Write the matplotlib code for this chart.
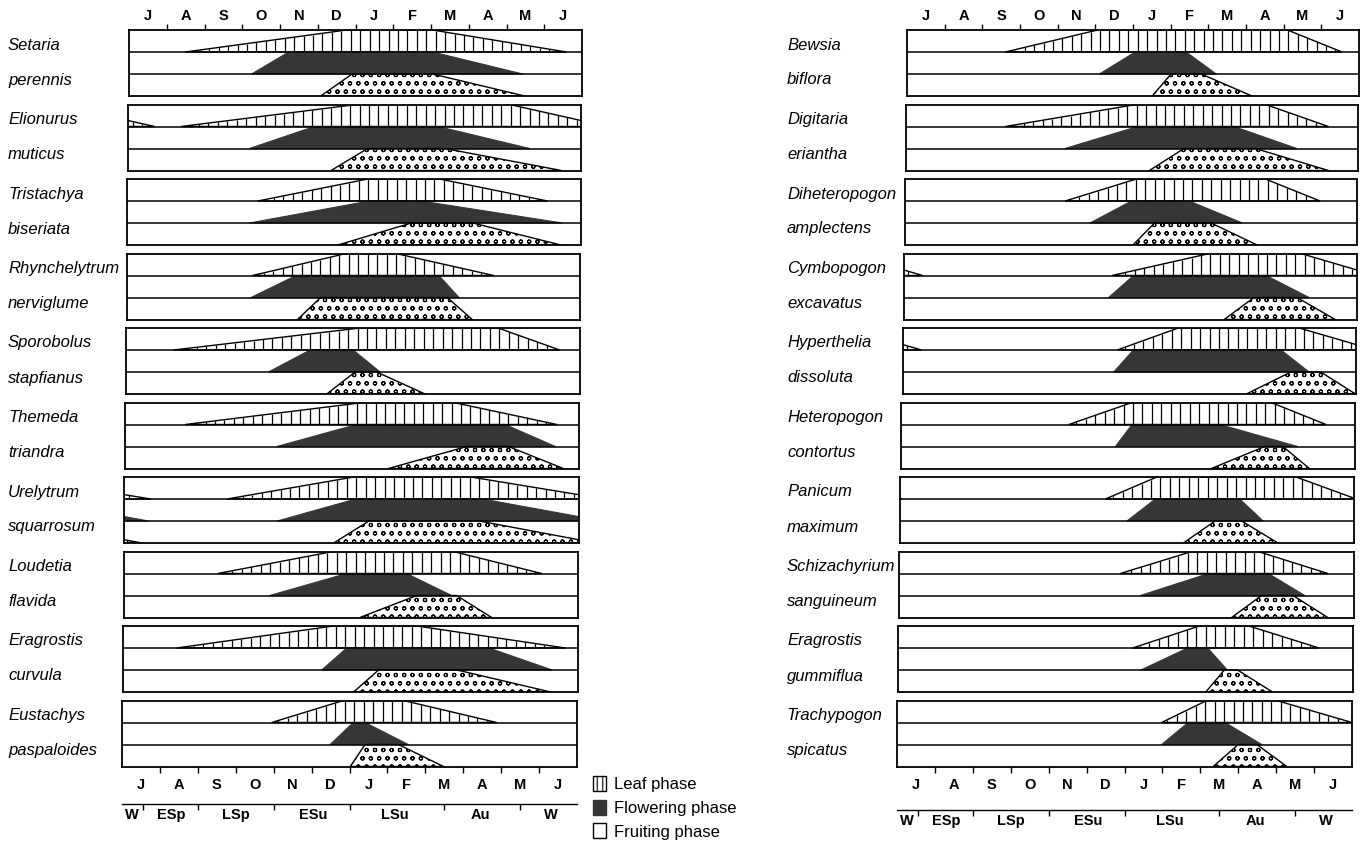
import numpy as np
import matplotlib
matplotlib.use('Agg')
import matplotlib.pyplot as plt
from matplotlib.patches import Polygon, Patch

# ---------------- data (months from 1 July: 0..12) ----------------
months = ['J', 'A', 'S', 'O', 'N', 'D', 'J', 'F', 'M', 'A', 'M', 'J']
seasons = ['W', 'ESp', 'LSp', 'ESu', 'LSu', 'Au', 'W']
season_bounds = [0.55, 2.0, 4.0, 6.0, 8.5, 10.5]
season_label_pos = [0.25, 1.3, 3.0, 5.05, 7.2, 9.45, 11.3]

species_left = [('Setaria', 'perennis'), ('Elionurus', 'muticus'),
                ('Tristachya', 'biseriata'), ('Rhynchelytrum', 'nerviglume'),
                ('Sporobolus', 'stapfianus'), ('Themeda', 'triandra'),
                ('Urelytrum', 'squarrosum'), ('Loudetia', 'flavida'),
                ('Eragrostis', 'curvula'), ('Eustachys', 'paspaloides')]
# (start, full start, full end, end)
leaf_left = [(1.49, 5.76, 8.04, 11.59), (1.40, 6.04, 10.10, 12.70),
             (3.45, 6.36, 8.26, 11.12), (3.33, 5.80, 7.12, 9.71),
             (1.26, 6.19, 9.84, 11.47), (1.59, 6.30, 8.68, 11.41),
             (2.71, 6.06, 9.15, 12.70), (2.49, 5.53, 8.70, 11.04),
             (1.42, 5.56, 7.76, 11.68), (3.95, 5.84, 7.42, 9.88)]
flower_left = [(3.25, 4.23, 8.04, 10.43), (3.21, 4.93, 8.20, 10.63),
               (3.23, 6.40, 7.77, 11.51), (3.29, 4.48, 8.26, 8.79),
               (3.77, 4.87, 6.01, 6.72), (4.01, 6.12, 10.04, 11.37),
               (4.04, 6.11, 9.46, 12.64), (3.86, 5.89, 7.47, 8.66),
               (5.25, 5.91, 9.66, 11.33), (5.49, 6.10, 6.41, 7.55)]
fruit_left = [(5.08, 5.91, 8.04, 10.48), (5.37, 6.34, 8.38, 11.47),
              (5.57, 7.51, 9.14, 11.47), (4.52, 5.13, 8.48, 9.14),
              (5.31, 6.06, 6.63, 7.91), (6.96, 9.03, 10.13, 11.58),
              (5.53, 6.46, 9.37, 12.46), (6.24, 7.74, 8.79, 9.72),
              (6.09, 6.75, 8.82, 11.29), (6.02, 6.41, 7.29, 8.48)]

species_right = [('Bewsia', 'biflora'), ('Digitaria', 'eriantha'),
                 ('Diheteropogon', 'amplectens'), ('Cymbopogon', 'excavatus'),
                 ('Hyperthelia', 'dissoluta'), ('Heteropogon', 'contortus'),
                 ('Panicum', 'maximum'), ('Schizachyrium', 'sanguineum'),
                 ('Eragrostis', 'gummiflua'), ('Trachypogon', 'spicatus')]
leaf_right = [(2.61, 5.06, 10.10, 11.55), (2.64, 6.11, 9.54, 11.21),
              (4.25, 6.14, 9.56, 11.01), (5.52, 8.10, 10.52, 12.50),
              (5.68, 7.30, 10.50, 12.50), (4.43, 6.10, 9.78, 11.23),
              (5.42, 6.78, 10.46, 12.05), (5.84, 7.73, 9.48, 11.32),
              (6.19, 7.95, 9.26, 11.11), (6.98, 8.17, 10.01, 12.00)]
flower_right = [(5.11, 6.06, 7.41, 8.21), (4.22, 6.15, 8.70, 10.37),
                (4.91, 6.01, 7.54, 8.95), (5.43, 6.09, 9.60, 10.74),
                (5.59, 6.11, 10.02, 10.76), (5.66, 6.10, 8.42, 10.48),
                (5.99, 6.74, 8.97, 9.59), (6.37, 8.17, 9.75, 10.71),
                (6.41, 7.64, 8.17, 8.69), (6.98, 7.68, 8.65, 9.62)]
fruit_right = [(6.51, 7.01, 7.81, 9.16), (6.46, 7.38, 9.27, 11.21),
               (6.05, 6.62, 8.12, 9.34), (8.49, 9.28, 10.42, 11.43),
               (9.10, 10.28, 11.07, 11.99), (8.20, 9.61, 10.09, 10.79),
               (7.48, 8.32, 9.02, 9.98), (8.78, 9.57, 10.40, 11.32),
               (8.12, 8.61, 8.96, 9.88), (8.34, 9.00, 9.49, 10.28)]

legend_labels = ['Leaf phase', 'Flowering phase', 'Fruiting phase']

# ---------------- style / layout ----------------
W, H = 1370, 850
FONT = 'Liberation Sans'
DARK = '#363636'
plt.rcParams['font.family'] = [FONT, 'DejaVu Sans']
plt.rcParams['hatch.linewidth'] = 0.8
plt.rcParams['hatch.color'] = 'black'

fig = plt.figure(figsize=(W / 100, H / 100), dpi=100)
fig.patch.set_facecolor('white')

TOP0, PITCH, PH = 30, 74.5, 66
columns = [
    dict(species=species_left, leaf=leaf_left, flower=flower_left, fruit=fruit_left,
         l0=129, l1=122, r0=582, r1=577, label_x=8, season_y=804),
    dict(species=species_right, leaf=leaf_right, flower=flower_right, fruit=fruit_right,
         l0=907, l1=897, r0=1359, r1=1352, label_x=787, season_y=810),
]


def trap(x, p):
    s, a, b, e = p
    y = np.zeros_like(x)
    up = (x > s) & (x < a)
    y[up] = (x[up] - s) / (a - s)
    y[(x >= a) & (x <= b)] = 1.0
    dn = (x > b) & (x < e)
    y[dn] = (e - x[dn]) / (e - b)
    return y


def add_phase(ax, p, base, **kw):
    s, a, b, e = p
    shifts = [0.0] + ([-12.0] if e > 12 else [])
    for sh in shifts:
        poly = Polygon([(s + sh, base), (a + sh, base + 1), (b + sh, base + 1), (e + sh, base)],
                       closed=True, zorder=2, **kw)
        ax.add_patch(poly)


hatch_x = np.arange(0.125, 12, 0.25)

for col in columns:
    n = len(col['species'])
    for i in range(n):
        top = TOP0 + i * PITCH
        left = col['l0'] + (col['l1'] - col['l0']) * i / (n - 1)
        right = col['r0'] + (col['r1'] - col['r0']) * i / (n - 1)
        ax = fig.add_axes([left / W, 1 - (top + PH) / H, (right - left) / W, PH / H])
        ax.set_xlim(0, 12)
        ax.set_ylim(0, 3)
        ax.set_yticks([])
        for sp in ax.spines.values():
            sp.set_linewidth(1.3)

        # leaf (top row)
        lp = col['leaf'][i]
        add_phase(ax, lp, 2, facecolor='white', edgecolor='black', linewidth=1.0)
        h = trap(hatch_x, lp) + trap(hatch_x + 12, lp)
        m = h > 0.03
        ax.vlines(hatch_x[m], 2, 2 + h[m], colors='black', linewidth=0.9, zorder=2.5)
        # flowering (middle row)
        add_phase(ax, col['flower'][i], 1, facecolor=DARK, edgecolor=DARK, linewidth=0.8)
        # fruiting (bottom row)
        add_phase(ax, col['fruit'][i], 0, facecolor='white', edgecolor='black',
                  linewidth=1.0, hatch='oo')
        ax.axhline(1, color='black', linewidth=1.1, zorder=3)
        ax.axhline(2, color='black', linewidth=1.1, zorder=3)

        ax.set_xticks(np.arange(1, 12))
        ax.set_xticks(np.arange(0.5, 12, 1), minor=True)
        if i == 0:
            ax.tick_params(axis='x', which='major', direction='out', length=4, width=1,
                           top=True, bottom=False, labeltop=False, labelbottom=False)
            ax.set_xticklabels(months, minor=True, fontsize=10.5, fontweight='bold')
            ax.tick_params(axis='x', which='minor', length=0, top=True, bottom=False,
                           labeltop=True, labelbottom=False, pad=5)
        elif i == n - 1:
            ax.tick_params(axis='x', which='major', direction='out', length=4, width=1,
                           top=False, bottom=True, labeltop=False, labelbottom=False)
            ax.set_xticklabels(months, minor=True, fontsize=10.5, fontweight='bold')
            ax.tick_params(axis='x', which='minor', length=0, top=False, bottom=True,
                           labeltop=False, labelbottom=True, pad=8)
        else:
            ax.tick_params(axis='x', which='both', length=0, labelbottom=False)
            ax.set_xticklabels([])

        genus, epithet = col['species'][i]
        fig.text(col['label_x'] / W, 1 - (top + 15) / H, genus, fontsize=12,
                 style='italic', va='center', ha='left')
        fig.text(col['label_x'] / W, 1 - (top + 50) / H, epithet, fontsize=12,
                 style='italic', va='center', ha='left')

        if i == n - 1:
            sy = col['season_y']
            sax = fig.add_axes([left / W, 1 - sy / H, (right - left) / W, 0.0005])
            sax.set_xlim(0, 12)
            sax.set_yticks([])
            for k in ('top', 'left', 'right'):
                sax.spines[k].set_visible(False)
            sax.spines['bottom'].set_linewidth(1.0)
            sax.set_xticks(season_bounds)
            sax.set_xticklabels([])
            sax.tick_params(axis='x', which='major', direction='out', length=4, width=1)
            sax.set_xticks(season_label_pos, minor=True)
            sax.set_xticklabels(seasons, minor=True, fontsize=10.5, fontweight='bold')
            sax.tick_params(axis='x', which='minor', length=0, pad=3)
            sax.patch.set_visible(False)

# legend
handles = [Patch(facecolor='white', edgecolor='black', hatch='|||', linewidth=1.0),
           Patch(facecolor=DARK, edgecolor=DARK),
           Patch(facecolor='white', edgecolor='black', linewidth=1.0)]
fig.legend(handles, legend_labels, loc='upper left',
           bbox_to_anchor=(593 / W, 1 - 776 / H), frameon=False, fontsize=12,
           handlelength=0.75, handleheight=1.0, handletextpad=0.5,
           labelspacing=0.45, borderpad=0, borderaxespad=0)

fig.savefig('out.png', dpi=100, facecolor='white')
